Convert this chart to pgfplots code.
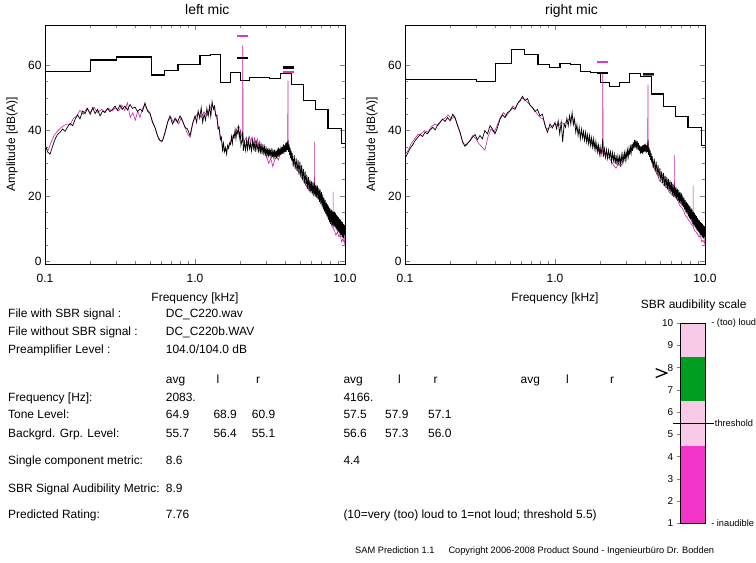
\documentclass[border=0pt]{standalone}
\usepackage{pgfplots}
\pgfplotsset{compat=1.18}
\usepackage{pgfplotstable}
\usepackage{fontspec}
\setmainfont{Liberation Sans}

\definecolor{specmag}{RGB}{205,35,165}
\definecolor{tonemag}{RGB}{228,55,190}
\definecolor{scalepink}{RGB}{248,202,232}
\definecolor{scalegreen}{RGB}{0,158,32}
\definecolor{scalemag}{RGB}{242,52,200}

\newcommand{\fsz}[1]{\fontsize{#1}{#1}\selectfont}

% chevron pointer for the rating scale (tip at the data point)
\pgfdeclareplotmark{chev}{%
  \pgfpathmoveto{\pgfqpoint{-11bp}{4.4bp}}%
  \pgfpathlineto{\pgfqpoint{0bp}{0bp}}%
  \pgfpathlineto{\pgfqpoint{-11bp}{-4.4bp}}%
  \pgfusepathqstroke}

% ---------- left microphone ----------
\pgfplotstableread{
x y
0.100 36.0
0.104 33.5
0.108 32.8
0.112 35.0
0.117 37.5
0.121 38.8
0.126 39.5
0.131 40.5
0.136 39.8
0.141 41.0
0.147 42.2
0.153 41.5
0.159 43.5
0.165 44.8
0.171 43.6
0.178 46.0
0.185 45.2
0.192 46.8
0.200 45.0
0.208 47.0
0.216 45.2
0.224 46.5
0.233 44.5
0.242 46.0
0.251 45.5
0.261 46.8
0.271 45.8
0.282 46.5
0.293 47.5
0.304 46.2
0.316 47.8
0.328 46.5
0.341 47.5
0.355 46.3
0.369 48.0
0.383 46.8
0.398 47.2
0.414 45.8
0.430 46.6
0.447 45.9
0.464 48.5
0.482 46.0
0.501 45.2
0.521 42.5
0.541 41.0
0.562 38.5
0.584 37.0
0.607 36.8
0.631 39.5
0.656 42.5
0.681 44.5
0.708 42.0
0.736 43.8
0.764 42.5
0.794 44.5
0.825 43.0
0.858 41.0
0.891 40.5
0.926 38.5
0.962 42.0
1.000 44.5
1.025 42.5
1.050 46.0
1.075 43.8
1.100 47.0
1.125 42.5
1.150 45.0
1.175 43.2
1.200 46.8
1.225 44.5
1.250 47.5
1.275 44.2
1.300 48.8
1.325 46.5
1.350 47.5
1.375 44.5
1.400 44.8
1.425 40.5
1.450 41.0
1.475 37.2
1.500 38.0
1.525 34.0
1.550 36.2
1.575 33.5
1.600 34.8
1.625 32.8
1.650 35.5
1.675 34.6
1.700 36.2
1.725 35.8
1.750 38.2
1.775 36.0
1.800 38.5
1.825 37.8
1.850 40.2
1.875 37.5
1.900 40.0
1.925 39.2
1.950 41.0
1.975 37.8
2.000 39.8
2.025 35.5
2.060 37.0
2.083 39.5
2.100 33.8
2.135 36.5
2.170 34.0
2.205 36.8
2.240 34.2
2.275 37.2
2.310 34.5
2.345 36.0
2.380 33.8
2.415 37.0
2.450 34.5
2.485 36.2
2.520 33.5
2.555 36.8
2.590 34.2
2.625 35.8
2.660 33.2
2.695 36.0
2.730 33.5
2.765 35.5
2.800 32.8
2.835 35.8
2.870 33.2
2.905 35.0
2.940 32.2
2.975 35.2
3.010 32.5
3.045 34.5
3.080 31.8
3.115 34.8
3.150 32.2
3.185 34.2
3.220 31.5
3.255 34.6
3.290 32.0
3.325 34.0
3.360 31.2
3.395 34.2
3.430 31.8
3.465 33.8
3.500 31.5
3.535 34.5
3.570 32.0
3.605 34.8
3.640 32.2
3.675 34.5
3.710 32.5
3.745 35.2
3.780 32.8
3.815 35.0
3.850 33.0
3.885 35.8
3.920 33.0
3.955 35.5
3.990 33.5
4.025 36.2
4.060 33.5
4.095 36.5
4.130 34.0
4.166 37.0
4.200 33.5
4.235 35.8
4.270 32.5
4.305 34.8
4.340 31.5
4.375 33.8
4.410 30.8
4.445 33.2
4.515 29.0
4.585 32.5
4.655 28.2
4.725 31.5
4.795 27.5
4.865 31.0
4.935 26.5
5.005 30.5
5.075 25.8
5.145 29.5
5.215 25.0
5.285 28.2
5.355 23.8
5.425 27.5
5.495 23.0
5.565 26.5
5.635 22.2
5.705 25.8
5.775 21.5
5.845 25.0
5.915 21.0
5.985 24.5
6.055 20.5
6.125 24.2
6.195 20.0
6.265 24.0
6.335 19.8
6.405 23.5
6.475 19.5
6.545 23.2
6.615 19.0
6.685 22.5
6.755 18.2
6.825 22.0
6.895 17.5
6.965 21.2
7.035 16.8
7.105 20.5
7.175 16.0
7.245 19.5
7.315 15.2
7.385 18.8
7.455 14.5
7.525 18.0
7.595 13.8
7.665 17.5
7.735 12.8
7.805 16.8
7.875 12.0
7.945 16.2
8.015 11.5
8.085 15.8
8.155 11.2
8.225 15.5
8.295 11.0
8.365 15.2
8.435 10.8
8.505 15.2
8.575 10.5
8.645 14.8
8.715 10.0
8.785 14.2
8.855 9.5
8.925 13.8
8.995 9.2
9.065 13.5
9.135 8.8
9.205 13.0
9.275 8.2
9.345 12.8
9.415 8.0
9.485 12.2
9.555 7.5
9.625 12.0
9.695 7.2
9.765 11.5
9.835 7.0
9.905 11.2
9.975 8.0
}\LeftBlack

\pgfplotstableread{
x y
0.100 35.0
0.105 34.0
0.110 36.5
0.115 38.5
0.121 39.8
0.127 40.8
0.133 41.5
0.140 42.0
0.147 41.8
0.155 43.8
0.163 44.5
0.171 46.2
0.180 45.0
0.190 46.8
0.200 45.5
0.212 47.2
0.225 45.5
0.238 46.5
0.250 45.8
0.265 46.8
0.280 46.0
0.295 47.0
0.310 46.0
0.325 47.8
0.340 46.2
0.355 48.5
0.370 44.0
0.385 45.5
0.400 43.2
0.415 46.0
0.430 44.0
0.445 46.5
0.460 47.8
0.480 46.5
0.500 45.5
0.520 43.0
0.545 40.5
0.570 37.5
0.600 36.5
0.630 39.0
0.660 42.8
0.690 44.2
0.720 42.5
0.750 43.5
0.780 42.0
0.810 44.0
0.850 41.5
0.890 39.0
0.930 38.0
0.970 42.5
1.000 44.0
1.050 45.5
1.100 44.0
1.150 45.8
1.200 44.5
1.250 46.5
1.300 48.0
1.350 46.5
1.400 43.5
1.450 40.0
1.500 37.0
1.550 34.0
1.600 33.8
1.650 34.5
1.700 35.8
1.750 37.0
1.800 38.5
1.850 39.5
1.900 40.5
1.950 41.5
2.000 40.5
2.060 38.0
2.075 40.0
2.081 66.0
2.085 66.0
2.091 38.0
2.120 36.5
2.200 38.0
2.250 36.0
2.300 38.2
2.350 36.5
2.400 38.0
2.450 35.8
2.500 37.8
2.550 36.0
2.600 37.5
2.650 35.5
2.700 36.8
2.750 34.5
2.800 35.0
2.900 33.5
3.000 32.0
3.100 30.0
3.200 31.5
3.300 29.0
3.400 31.0
3.500 32.0
3.600 31.0
3.700 33.0
3.800 34.5
3.900 34.0
4.000 35.5
4.100 34.8
4.150 36.0
4.163 55.2
4.169 55.2
4.182 36.5
4.250 35.0
4.350 33.0
4.450 31.5
4.600 30.0
4.800 28.0
5.000 27.0
5.200 25.0
5.400 24.0
5.600 22.5
5.800 21.5
6.000 22.0
6.200 21.0
6.240 21.5
6.250 36.6
6.260 21.0
6.400 20.0
6.600 19.5
6.800 18.5
7.000 18.0
7.200 16.0
7.400 15.0
7.600 14.0
7.800 13.0
8.000 12.0
8.200 10.5
8.320 10.5
8.333 21.3
8.346 10.0
8.500 9.5
8.700 8.0
8.900 9.0
9.100 7.5
9.300 8.0
9.500 6.0
9.700 7.0
9.900 5.5
10.00 7.5
}\LeftMag

% ---------- right microphone ----------
\pgfplotstableread{
x y
0.100 31.5
0.104 33.0
0.108 34.5
0.112 35.5
0.117 37.0
0.121 37.8
0.126 38.8
0.131 38.2
0.136 39.5
0.141 39.0
0.147 40.2
0.153 41.0
0.159 40.2
0.165 41.8
0.171 42.5
0.178 43.5
0.185 42.8
0.192 44.0
0.200 43.0
0.208 45.0
0.216 43.8
0.224 41.5
0.233 39.5
0.242 36.5
0.251 35.2
0.261 36.2
0.271 36.8
0.282 38.0
0.293 38.8
0.304 37.2
0.316 38.5
0.328 37.5
0.341 40.0
0.355 39.0
0.369 41.5
0.383 40.5
0.398 39.0
0.414 41.0
0.430 43.5
0.447 44.8
0.464 44.0
0.482 45.5
0.501 46.0
0.521 47.0
0.541 46.5
0.562 48.2
0.584 49.0
0.607 50.5
0.631 49.2
0.656 49.8
0.681 47.8
0.708 47.0
0.736 45.8
0.764 46.5
0.794 44.5
0.825 45.0
0.858 41.5
0.891 39.5
0.926 42.0
0.962 40.8
1.000 42.5
1.025 40.5
1.050 43.0
1.075 39.0
1.100 42.5
1.125 36.5
1.150 42.0
1.175 41.0
1.200 43.8
1.225 41.5
1.250 44.5
1.275 42.0
1.300 45.5
1.325 41.8
1.350 43.5
1.375 39.5
1.400 41.8
1.425 38.5
1.450 41.0
1.475 37.5
1.500 40.5
1.525 37.8
1.550 39.8
1.575 37.0
1.600 39.5
1.625 36.5
1.650 38.8
1.675 36.0
1.700 38.5
1.725 35.5
1.750 37.8
1.775 35.0
1.800 37.5
1.825 34.5
1.850 36.8
1.875 34.0
1.900 36.0
1.925 33.5
1.950 35.5
1.975 32.8
2.000 35.0
2.025 32.5
2.060 35.0
2.083 37.5
2.100 32.0
2.135 34.5
2.170 31.8
2.205 34.2
2.240 31.5
2.275 34.0
2.310 31.8
2.345 33.5
2.380 30.5
2.415 33.2
2.450 30.8
2.485 32.8
2.520 29.8
2.555 32.5
2.590 29.5
2.625 32.2
2.660 30.0
2.695 32.0
2.730 29.8
2.765 32.5
2.800 30.2
2.835 32.8
2.870 30.8
2.905 33.2
2.940 31.0
2.975 33.5
3.010 31.5
3.045 34.0
3.080 32.0
3.115 34.5
3.150 32.5
3.185 35.0
3.220 33.2
3.255 35.8
3.290 33.8
3.325 36.5
3.360 34.5
3.395 37.2
3.430 34.8
3.465 37.0
3.500 35.0
3.535 36.8
3.570 34.2
3.605 36.2
3.640 33.8
3.675 35.5
3.710 33.0
3.745 35.2
3.780 33.2
3.815 35.5
3.850 32.8
3.885 35.6
3.920 33.5
3.955 35.8
3.990 33.6
4.025 36.0
4.060 33.2
4.095 35.5
4.130 33.4
4.166 37.0
4.200 32.6
4.235 34.8
4.270 32.0
4.305 34.0
4.340 31.0
4.375 33.0
4.410 30.2
4.445 32.2
4.515 28.5
4.585 31.5
4.655 27.5
4.725 30.5
4.795 26.5
4.865 29.5
4.935 25.5
5.005 28.5
5.075 24.5
5.145 27.5
5.215 24.0
5.285 27.0
5.355 23.0
5.425 26.2
5.495 22.5
5.565 25.8
5.635 22.0
5.705 25.2
5.775 21.5
5.845 24.8
5.915 21.0
5.985 24.2
6.055 20.2
6.125 23.8
6.195 19.8
6.265 23.2
6.335 19.5
6.405 22.8
6.475 19.0
6.545 22.2
6.615 18.5
6.685 21.8
6.755 18.0
6.825 21.2
6.895 17.5
6.965 20.8
7.035 17.0
7.105 20.2
7.175 16.5
7.245 19.5
7.315 15.8
7.385 18.8
7.455 15.0
7.525 18.2
7.595 14.5
7.665 17.8
7.735 13.8
7.805 17.2
7.875 13.2
7.945 16.8
8.015 12.8
8.085 16.2
8.155 12.2
8.225 15.8
8.295 11.5
8.365 15.2
8.435 11.0
8.505 14.8
8.575 10.5
8.645 14.2
8.715 10.0
8.785 13.8
8.855 9.5
8.925 13.2
8.995 9.2
9.065 12.8
9.135 8.8
9.205 12.5
9.275 8.2
9.345 12.0
9.415 8.0
9.485 11.8
9.555 7.5
9.625 11.5
9.695 7.2
9.765 11.0
9.835 6.8
9.905 10.8
9.975 7.5
}\RightBlack

\pgfplotstableread{
x y
0.100 32.5
0.105 34.0
0.110 36.0
0.116 37.5
0.122 38.8
0.128 39.0
0.135 40.0
0.142 39.5
0.150 41.2
0.158 42.0
0.166 41.5
0.175 43.2
0.184 43.8
0.194 44.8
0.204 43.5
0.214 44.5
0.224 41.8
0.235 38.5
0.246 36.0
0.258 35.5
0.270 37.0
0.283 38.5
0.297 37.5
0.311 36.0
0.326 35.0
0.341 34.0
0.357 38.0
0.374 40.5
0.392 39.5
0.411 41.5
0.431 44.0
0.452 45.5
0.474 44.5
0.497 45.8
0.521 47.5
0.546 47.0
0.572 48.8
0.600 50.0
0.629 49.5
0.660 48.5
0.692 47.5
0.726 46.5
0.761 45.0
0.798 44.0
0.837 43.5
0.877 40.5
0.920 40.8
0.964 41.5
1.000 42.0
1.050 41.5
1.100 42.5
1.150 42.0
1.200 43.0
1.250 43.5
1.300 44.5
1.350 42.5
1.400 40.5
1.450 39.5
1.500 39.0
1.550 38.0
1.600 37.5
1.650 37.0
1.700 36.5
1.750 36.0
1.800 35.5
1.850 35.0
1.900 34.5
1.950 34.0
2.000 33.5
2.060 33.0
2.075 34.0
2.081 57.5
2.085 57.5
2.091 33.5
2.150 32.5
2.250 32.0
2.350 31.0
2.450 29.5
2.550 28.5
2.650 30.0
2.750 29.0
2.850 31.0
2.950 32.0
3.050 32.5
3.150 33.5
3.250 34.0
3.350 35.5
3.450 35.0
3.550 35.5
3.650 34.0
3.750 33.5
3.850 34.0
3.950 34.5
4.050 35.0
4.150 35.5
4.163 54.0
4.169 54.0
4.182 36.5
4.250 34.0
4.350 31.5
4.500 29.5
4.650 28.0
4.800 26.5
5.000 24.5
5.200 24.0
5.400 23.0
5.600 22.5
5.800 21.0
6.000 20.5
6.200 19.8
6.240 20.0
6.250 32.5
6.260 20.0
6.400 19.5
6.600 18.5
6.800 17.0
7.000 16.5
7.200 15.5
7.400 14.0
7.600 13.5
7.800 12.5
8.000 12.0
8.200 11.0
8.320 11.0
8.333 23.2
8.346 10.5
8.500 9.5
8.700 9.0
8.900 8.5
9.100 7.5
9.300 8.0
9.500 6.0
9.700 6.5
9.900 5.5
10.00 7.0
}\RightMag

\begin{document}
\begin{tikzpicture}
\fill[white] (0,0) rectangle (756bp,563bp);
\path[use as bounding box] (0,0) rectangle (756bp,563bp);

% left microphone spectrum
\begin{axis}[at={(45bp,299bp)}, anchor=south west, scale only axis,
    width=300bp, height=239bp,
    xmode=log, xmin=0.1, xmax=10, ymin=-0.8, ymax=72.3,
    xtick={0.1,1,10}, xticklabels={0.1,1.0,10.0},
    ytick={0,20,40,60}, minor y tick num=3,
    /pgf/number format/assume math mode=true,
    tick label style={font=\fsz{12}},
    xticklabel style={yshift=-7bp},
    major tick length=5bp, minor tick length=3bp,
    axis line style={line width=0.8bp}, tick style={line width=0.6bp},
    xlabel={Frequency [kHz]}, ylabel={Amplitude [dB(A)]},
    label style={font=\fsz{12}},
    x label style={at={(axis description cs:0.5,-0.159)}, anchor=base},
    y label style={at={(axis description cs:-0.11,0.5)}, anchor=center},
    title={left mic}, every axis title shift=0pt,
    title style={font=\fsz{14}, at={(axis description cs:0.4556,1.042)}, anchor=base west}]
\addplot[const plot, black, line width=1.1bp] coordinates {(0.1,58.2) (0.2,61.6) (0.3,62.5) (0.51,57.0) (0.63,58.5) (0.77,60.3) (1.08,62.9) (1.27,63.4) (1.48,54.8) (1.72,57.9) (2.0,55.4) (2.32,56.3) (3.15,55.8) (3.7,57.5) (4.4,54.0) (5.3,49.1) (6.4,46.5) (7.7,40.7) (9.5,36.1) (10,36.1)};
\addplot[specmag, line width=0.6bp] table {\LeftMag};
\addplot[black, line width=0.7bp] table {\LeftBlack};
\addplot[tonemag, line width=2.2bp] coordinates {(1.91,68.9) (2.24,68.9)};
\addplot[black, line width=2.2bp] coordinates {(1.91,62.3) (2.24,62.3)};
\addplot[black, line width=2.2bp] coordinates {(3.85,59.3) (4.55,59.3)};
\addplot[tonemag, line width=2.2bp] coordinates {(3.85,57.9) (4.55,57.9)};
\end{axis}

% right microphone spectrum
\begin{axis}[at={(405bp,299bp)}, anchor=south west, scale only axis,
    width=300bp, height=239bp,
    xmode=log, xmin=0.1, xmax=10, ymin=-0.8, ymax=72.3,
    xtick={0.1,1,10}, xticklabels={0.1,1.0,10.0},
    ytick={0,20,40,60}, minor y tick num=3,
    /pgf/number format/assume math mode=true,
    tick label style={font=\fsz{12}},
    xticklabel style={yshift=-7bp},
    major tick length=5bp, minor tick length=3bp,
    axis line style={line width=0.8bp}, tick style={line width=0.6bp},
    xlabel={Frequency [kHz]}, ylabel={Amplitude [dB(A)]},
    label style={font=\fsz{12}},
    x label style={at={(axis description cs:0.5,-0.159)}, anchor=base},
    y label style={at={(axis description cs:-0.11,0.5)}, anchor=center},
    title={right mic}, every axis title shift=0pt,
    title style={font=\fsz{14}, at={(axis description cs:0.4556,1.042)}, anchor=base west}]
\addplot[const plot, black, line width=1.1bp] coordinates {(0.1,55.7) (0.3,54.9) (0.4,60.4) (0.51,64.9) (0.63,63.3) (0.77,60.1) (0.92,59.4) (1.08,60.6) (1.27,60.3) (1.48,58.0) (1.72,57.7) (2.0,54.8) (2.32,53.6) (2.7,54.8) (3.15,57.5) (3.7,56.5) (4.4,51.2) (5.3,47.4) (6.4,44.3) (7.7,40.9) (9.5,35.4) (10,35.4)};
\addplot[specmag, line width=0.6bp] table {\RightMag};
\addplot[black, line width=0.7bp] table {\RightBlack};
\addplot[tonemag, line width=2.2bp] coordinates {(1.91,60.9) (2.24,60.9)};
\addplot[black, line width=2.2bp] coordinates {(1.91,57.7) (2.24,57.7)};
\addplot[tonemag, line width=2.2bp] coordinates {(3.85,56.9) (4.55,56.9)};
\addplot[black!85!tonemag, line width=2.2bp] coordinates {(3.85,57.4) (4.55,57.4)};
\end{axis}

% audibility scale
\begin{axis}[anchor=south west, at={(680.7bp,39.7bp)}, scale only axis,
  width=24.3bp, height=200bp, xmin=0, xmax=1, ymin=1, ymax=10,
  xtick=\empty, ytick={1,2,...,10}, ytick pos=left, ytick align=outside,
  major tick length=4bp, tick style={line width=0.6bp},
  /pgf/number format/assume math mode=true,
  yticklabel style={font=\fsz{10}},
  axis line style={line width=0.7bp}, axis on top, clip=false,
  title={SBR audibility scale}, every axis title shift=0pt,
  title style={font=\fsz{12}, at={(axis description cs:0.535,1)}, anchor=base, yshift=15bp}]
\addplot[fill=scalemag, draw=none] coordinates {(0,1) (1,1) (1,4.5) (0,4.5)} -- cycle;
\addplot[fill=scalepink, draw=none] coordinates {(0,4.5) (1,4.5) (1,6.5) (0,6.5)} -- cycle;
\addplot[fill=scalegreen, draw=none] coordinates {(0,6.5) (1,6.5) (1,8.5) (0,8.5)} -- cycle;
\addplot[fill=scalepink, draw=none] coordinates {(0,8.5) (1,8.5) (1,10) (0,10)} -- cycle;
\addplot[black, line width=0.8bp] coordinates {(-0.32,5.5) (1.38,5.5)};
\addplot[only marks, mark=chev, mark options={line width=1.3bp, black}] coordinates {(-0.576,7.76)};
\node[anchor=west, font=\fsz{9.3}, inner sep=0pt] at (axis cs:1.25,10) {- (too) loud};
\node[anchor=west, font=\fsz{9.3}, inner sep=0pt] at (axis cs:1.40,5.5) {threshold};
\node[anchor=west, font=\fsz{9.3}, inner sep=0pt] at (axis cs:1.25,1) {- inaudible};
\end{axis}

% report text
\begin{scope}[every node/.style={anchor=base west, inner sep=0pt, font=\fsz{12}}]
\node at (8bp,245.3bp) {File with SBR signal :};
\node at (165.7bp,245.3bp) {DC\_C220.wav};
\node at (8bp,227.3bp) {File without SBR signal :};
\node at (165.7bp,227.3bp) {DC\_C220b.WAV};
\node at (8bp,209.7bp) {Preamplifier Level :};
\node at (165.7bp,209.7bp) {104.0/104.0 dB};

\node at (165.7bp,179bp) {avg};
\node at (216.5bp,179bp) {l};
\node at (256bp,179bp) {r};
\node at (343.3bp,179bp) {avg};
\node at (398bp,179bp) {l};
\node at (433.5bp,179bp) {r};
\node at (520.5bp,179bp) {avg};
\node at (566bp,179bp) {l};
\node at (610bp,179bp) {r};

\node at (8bp,161.3bp) {Frequency [Hz]:};
\node at (165.7bp,161.3bp) {2083.};
\node at (343.3bp,161.3bp) {4166.};

\node at (8bp,144bp) {Tone Level:};
\node at (165.7bp,144bp) {64.9};
\node at (213.3bp,144bp) {68.9};
\node at (251.7bp,144bp) {60.9};
\node at (343.3bp,144bp) {57.5};
\node at (385bp,144bp) {57.9};
\node at (428bp,144bp) {57.1};

\node at (8bp,125.7bp) {Backgrd. Grp. Level:};
\node at (165.7bp,125.7bp) {55.7};
\node at (213.3bp,125.7bp) {56.4};
\node at (251.7bp,125.7bp) {55.1};
\node at (343.3bp,125.7bp) {56.6};
\node at (385bp,125.7bp) {57.3};
\node at (428bp,125.7bp) {56.0};

\node at (8bp,98bp) {Single component metric:};
\node at (165.7bp,98bp) {8.6};
\node at (343.3bp,98bp) {4.4};

\node at (8bp,70.7bp) {SBR Signal Audibility Metric:};
\node at (165.7bp,70.7bp) {8.9};

\node at (8bp,44bp) {Predicted Rating:};
\node at (165.7bp,44bp) {7.76};
\node at (343.3bp,44bp) {(10=very (too) loud to 1=not loud; threshold 5.5)};

\node[font=\fsz{9.3}] at (355bp,9.7bp) {SAM Prediction 1.1};
\node[font=\fsz{9.3}] at (448.3bp,9.7bp) {Copyright 2006-2008 Product Sound - Ingenieurbüro Dr. Bodden};
\end{scope}
\end{tikzpicture}
\end{document}
